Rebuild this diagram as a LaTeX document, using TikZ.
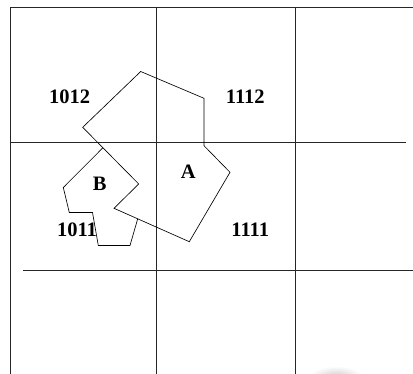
\documentclass[tikz,border=0pt]{standalone}
\usepackage{fontspec}
\setmainfont{Liberation Serif}
\begin{document}
\begin{tikzpicture}[x=1pt,y=-1pt,
  gridline/.style={line width=1pt,draw=black!85},
  parcel/.style={line width=0.65pt,draw=black,line join=miter},
  lbl/.style={inner sep=0pt,font=\fontsize{20.5}{22}\selectfont\bfseries}]
\useasboundingbox (0,0) rectangle (413,374);
% grid
\draw[gridline] (10,374) -- (10,8) -- (413,8);
\draw[gridline] (156,8) -- (156,374);
\draw[gridline] (295.3,8) -- (295.3,374);
\draw[gridline] (10,142.5) -- (406,142.5);
\draw[gridline] (23,271) -- (413,271);
% faint smudge
\shade[inner color=black!18,outer color=white] (336,376) ellipse (26 and 10);
% label under parcel B
\node[lbl] (l1011) at (77,229.5) {1011};
% parcel B area covers the label
\fill[white] (102.7,148) -- (63.3,187.5) -- (69.3,212.5) -- (92.5,212.5) -- (98.3,245.5)
  -- (130,245.5) -- (137.7,218.8) -- (114,208.3) -- (138.7,184) -- cycle;
% parcel A
\draw[parcel] (140.7,71.5) -- (204,98.3) -- (204,145.7) -- (230,172.3) -- (189.3,241.7)
  -- (114,208.3) -- (138.7,184) -- (82.7,127.3) -- cycle;
% parcel B
\draw[parcel] (102.7,148) -- (63.3,187.5) -- (69.3,212.5) -- (92.5,212.5) -- (98.3,245.5)
  -- (130,245.5) -- (137.7,218.8);
% labels
\node[lbl] (l1012) at (69.7,97) {1012};
\node[lbl] (l1112) at (245.3,97) {1112};
\node[lbl] (lA) at (188.3,172) {A};
\node[lbl] (lB) at (99.7,184) {B};
\node[lbl] (l1111) at (250.3,229.5) {1111};
\end{tikzpicture}
\end{document}
